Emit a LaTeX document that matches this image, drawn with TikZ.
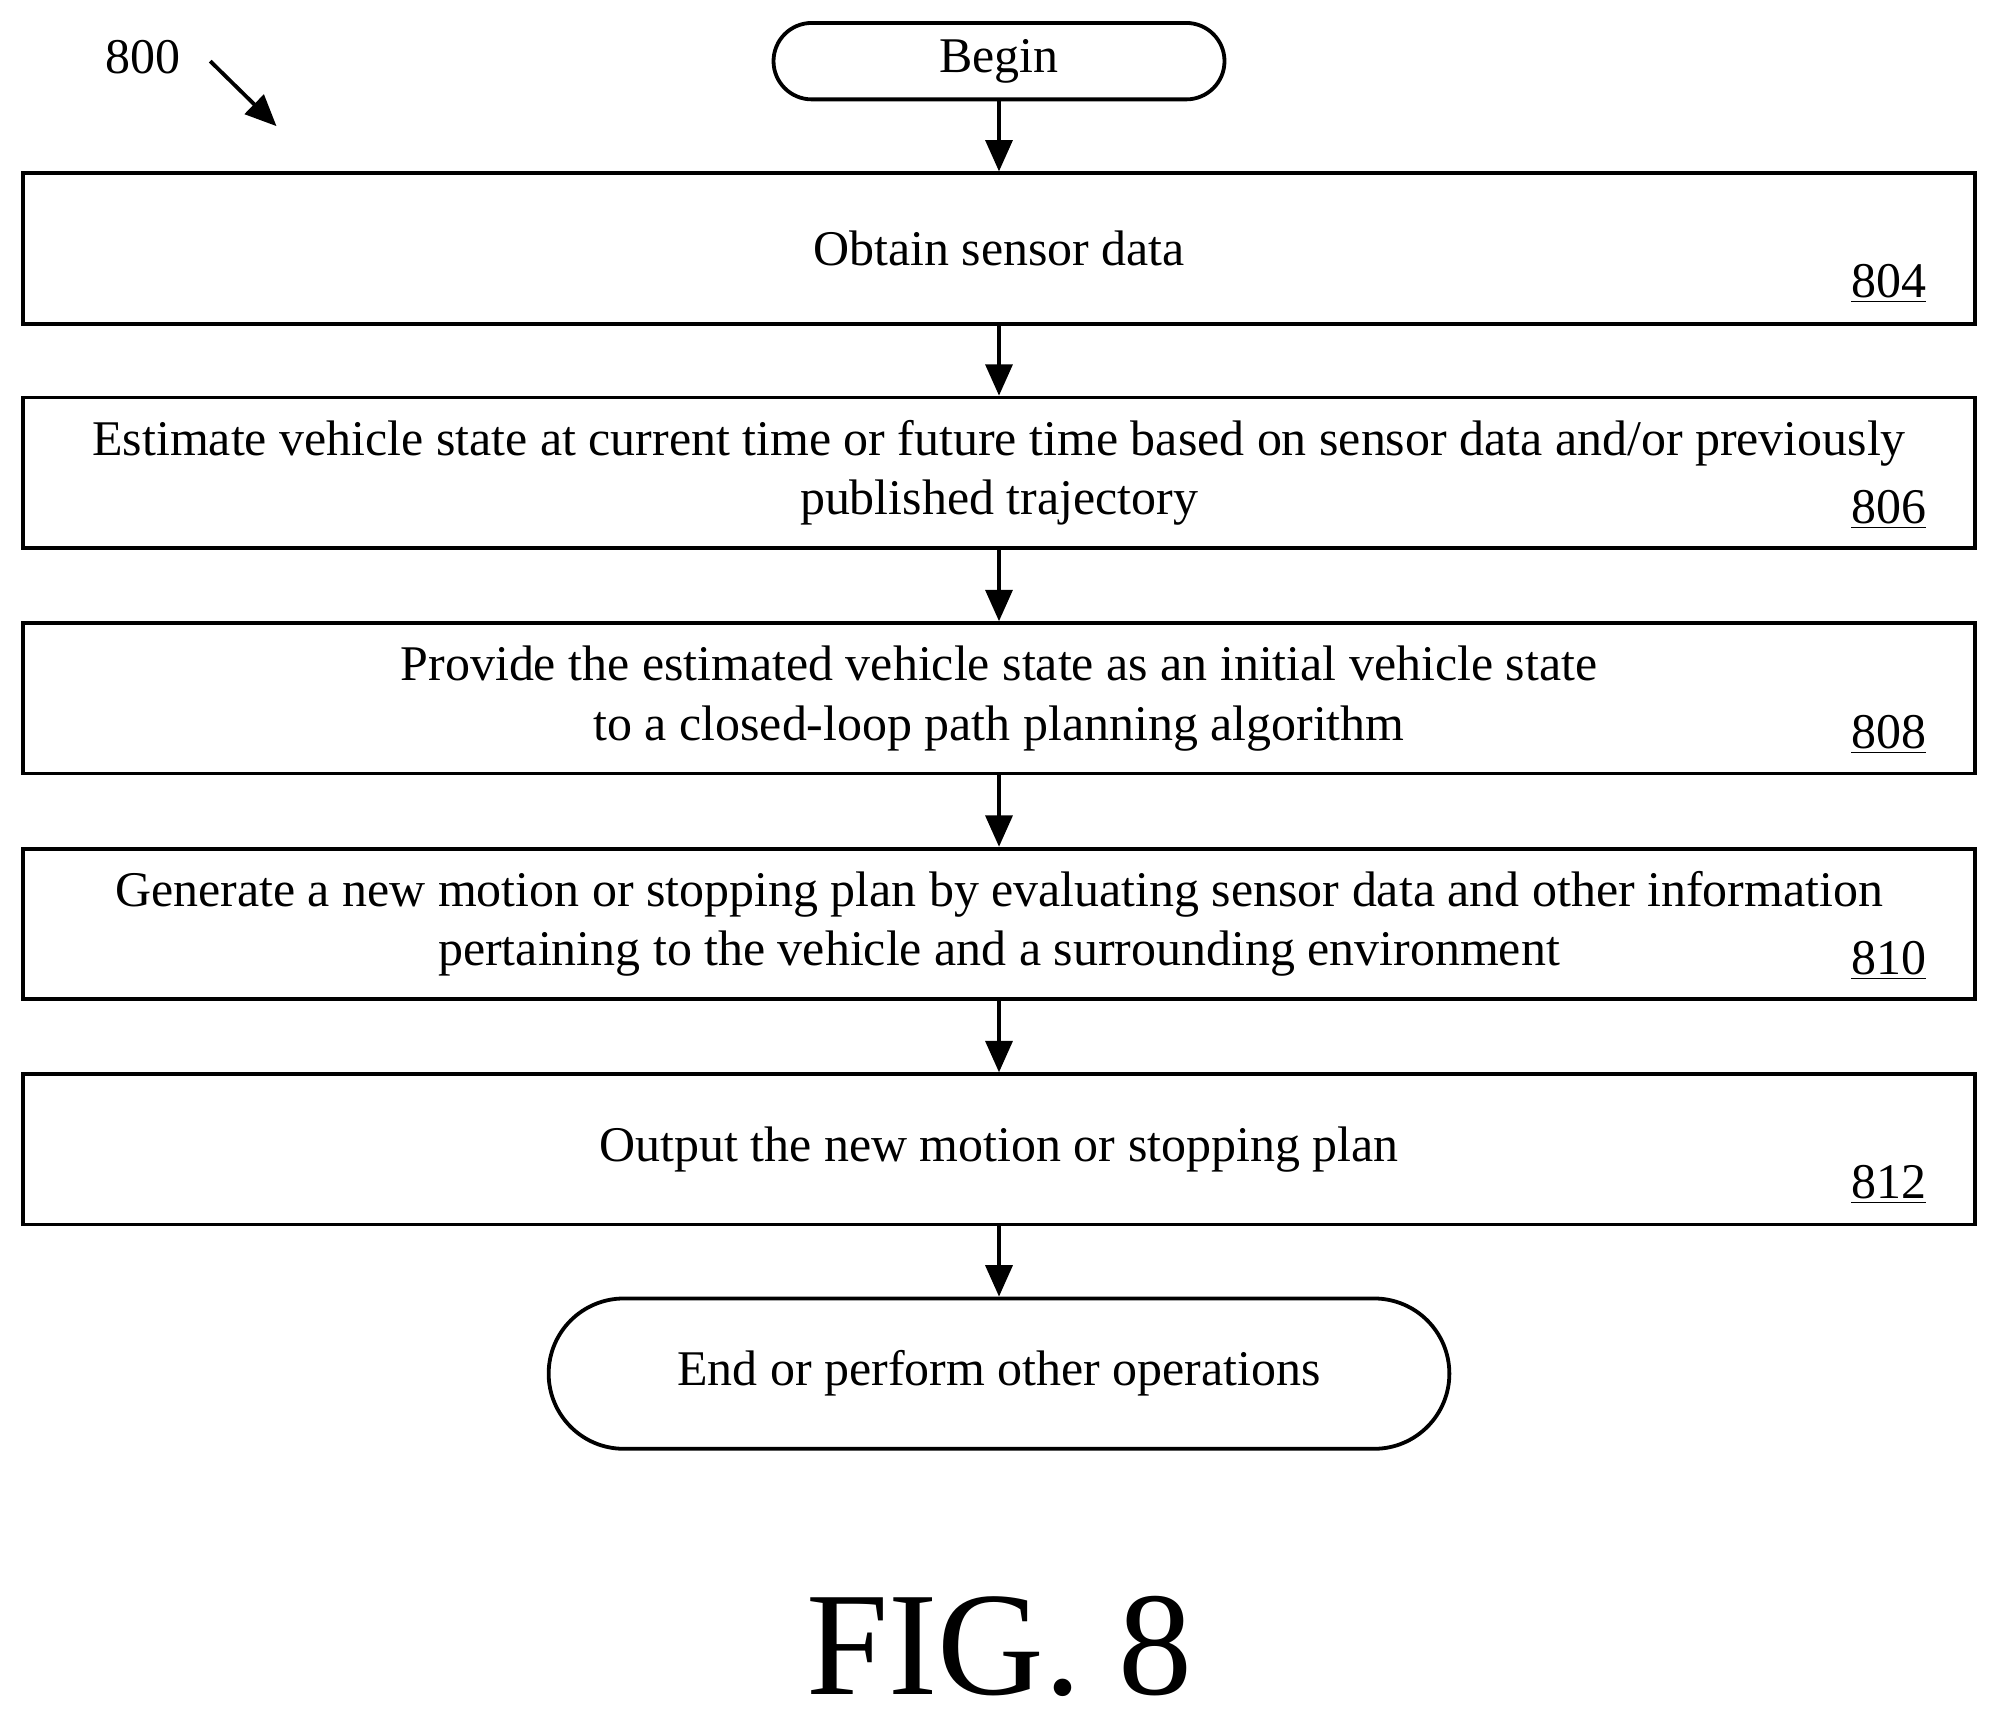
\documentclass[tikz,border=0pt]{standalone}
\usepackage{fontspec}
\setmainfont{Liberation Serif}
\usetikzlibrary{positioning, arrows.meta}
\tikzset{
>={Triangle[length=14pt,width=12pt]}, % bold arrow heads
every node/.style={font=\fontsize{22.3}{26.7}\selectfont},
block/.style={draw, line width=1.7pt, minimum width=30.64cm, minimum height=2.36cm, align=center},
term/.style={draw, line width=1.7pt, rounded corners=0.6cm, align=center},
num/.style={anchor=south east, inner sep=0pt},
flow/.style={->, line width=1.7pt},
}
\begin{document}
\begin{tikzpicture}[x=0.02cm, y=-0.02cm]
        \useasboundingbox (0,0) rectangle (1568,1352);
        \node[term, minimum width=7.08cm, minimum height=1.2cm] (begin) at (784,48) {Begin};
        \node[block] (s804) at (784,195) {Obtain sensor data};
        \node[block] (s806) at (784,371) {Estimate vehicle state at current time or future time based on sensor data and/or previously\\published trajectory};
        \node[block] (s808) at (784,548) {Provide the estimated vehicle state as an initial vehicle state\\to a closed-loop path planning algorithm};
        \node[block] (s810) at (784,725) {Generate a new motion or stopping plan by evaluating sensor data and other information\\pertaining to the vehicle and a surrounding environment};
        \node[block] (s812) at (784,902) {Output the new motion or stopping plan};
        \node[term, minimum width=14.14cm, minimum height=2.36cm, rounded corners=1.18cm] (end) at (784,1078) {End or perform other operations};

        % reference numbers
        \node[num] at (1512,238) {\underline{804}};
        \node[num] at (1512,415) {\underline{806}};
        \node[num] at (1512,592) {\underline{808}};
        \node[num] at (1512,769) {\underline{810}};
        \node[num] at (1512,945) {\underline{812}};

        \draw[flow] (begin) -- (s804);
        \draw[flow] (s804) -- (s806);
        \draw[flow] (s806) -- (s808);
        \draw[flow] (s808) -- (s810);
        \draw[flow] (s810) -- (s812);
        \draw[flow] (s812) -- (end);

        \node (n800) at (112,45) {800};
        \coordinate (tip) at (217,99);
        \draw[flow] (165,48) -- (tip);

        \node[font=\fontsize{66}{70}\selectfont, inner sep=0pt] (fig) at (784,1292) {FIG. 8};
\end{tikzpicture}
\end{document}
